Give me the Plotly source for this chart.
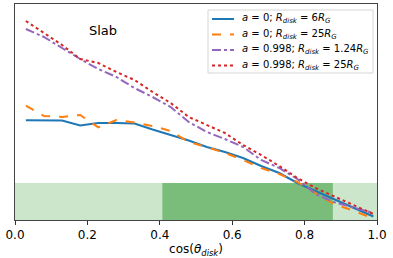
import plotly.graph_objects as go

cos_theta = [0.03, 0.08, 0.13, 0.18, 0.23, 0.28, 0.33, 0.38, 0.43, 0.48,
             0.53, 0.58, 0.63, 0.68, 0.73, 0.78, 0.83, 0.88, 0.93, 0.99]

a0_r6 = [99.7, 99.7, 99.5, 94.5, 97, 97, 96.5, 90.5, 85, 79.5,
         73, 68, 62, 54, 47, 37, 29, 21, 13, 3.5]
a0_r25 = [114.3, 104, 103, 105, 92.7, 100, 97.5, 94, 89, 78,
          73, 67, 60, 52, 46, 38, 27, 16, 10, 1.5]
a998_r124 = [191, 183, 172, 161, 151, 143, 132, 123, 113, 98,
             88, 81, 73, 60, 52, 41, 26, 18, 13, 7]
a998_r25 = [199, 187, 175, 161, 157, 148, 140, 128, 117, 103,
            95, 87, 75, 65, 54, 42, 32, 24, 16, 6]

names = [
    "<i>a</i> = 0; <i>R<sub>disk</sub></i> = 6<i>R<sub>G</sub></i>",
    "<i>a</i> = 0; <i>R<sub>disk</sub></i> = 25<i>R<sub>G</sub></i>",
    "<i>a</i> = 0.998; <i>R<sub>disk</sub></i> = 1.24<i>R<sub>G</sub></i>",
    "<i>a</i> = 0.998; <i>R<sub>disk</sub></i> = 25<i>R<sub>G</sub></i>",
]
colors = ["#1f77b4", "#ff7f0e", "#9467bd", "#d62728"]
dashes = ["solid", "dash", "dashdot", "dot"]
series = [a0_r6, a0_r25, a998_r124, a998_r25]

band_top = 37
band_dark = [0.407, 0.878]

fig = go.Figure()
for ys, nm, c, d in zip(series, names, colors, dashes):
    fig.add_trace(go.Scatter(x=cos_theta, y=ys, mode="lines", name=nm, showlegend=False,
                             line=dict(color=c, width=2, dash=d)))

fig.add_shape(type="rect", xref="x", yref="y", x0=0, x1=1, y0=0, y1=band_top,
              fillcolor="#cce6cc", line_width=0, layer="below")
fig.add_shape(type="rect", xref="x", yref="y", x0=band_dark[0], x1=band_dark[1],
              y0=0, y1=band_top, fillcolor="#7abd7a", line_width=0, layer="below")

fig.add_annotation(x=0.243, y=189.5, xref="x", yref="y", text="Slab", showarrow=False,
                   font=dict(size=13, color="black"))

# legend (layout element, paper coords relative to plot area)
W, H, L, B = 362.0, 216.0, 15.0, 220.0
def px(xp):
    return (xp - L) / W
def py(yp):
    return (B - yp) / H

fig.add_shape(type="rect", xref="paper", yref="paper", x0=px(208), x1=px(373),
              y0=py(73), y1=py(10), fillcolor="rgba(255,255,255,0.85)",
              line=dict(color="#d6d6d6", width=1), layer="above")
rows = [19, 34.5, 50, 65.5]
for r, nm, c, d in zip(rows, names, colors, dashes):
    fig.add_shape(type="line", xref="paper", yref="paper", x0=px(212), x1=px(234),
                  y0=py(r), y1=py(r), line=dict(color=c, width=2, dash=d), layer="above")
    fig.add_annotation(x=px(240), y=py(r), xref="paper", yref="paper", text=nm,
                       showarrow=False, xanchor="left", yanchor="middle",
                       font=dict(size=10, color="black"))

fig.update_layout(
    width=393, height=258,
    margin=dict(l=15, r=16, t=4, b=38, autoexpand=False),
    paper_bgcolor="white", plot_bgcolor="white",
    font=dict(family="DejaVu Sans", color="black"),
    showlegend=False,
)
fig.update_xaxes(range=[0, 1], tickvals=[0, 0.2, 0.4, 0.6, 0.8, 1.0],
                 ticktext=["0.0", "0.2", "0.4", "0.6", "0.8", "1.0"],
                 ticks="outside", ticklen=4, tickcolor="#333",
                 showline=True, linecolor="#444", linewidth=1, mirror=True,
                 showgrid=False, zeroline=False, tickfont=dict(size=12),
                 automargin=False,
                 title=dict(text="cos(<i>θ</i><sub><i>disk</i></sub>)", font=dict(size=12), standoff=2))
fig.update_yaxes(range=[0, 216], showticklabels=False, ticks="",
                 showline=True, linecolor="#444", linewidth=1, mirror=True,
                 showgrid=False, zeroline=False, automargin=False)

fig.write_html("out.html", config={"displayModeBar": False},
               post_script="document.body.style.margin='0';")
